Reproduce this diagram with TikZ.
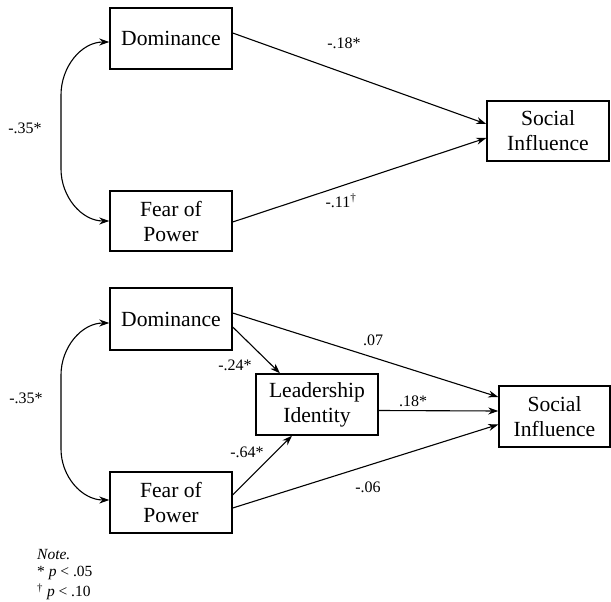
\documentclass[tikz,border=0pt]{standalone}
\usepackage{fontspec}
\setmainfont{Liberation Serif}
\usetikzlibrary{arrows.meta,calc}
\begin{document}
\begin{tikzpicture}[x=1pt,y=-1pt,
  box/.style={draw,line width=1.4pt,inner sep=0pt,align=center,
    font=\fontsize{21.6}{25}\selectfont},
  arr/.style={line width=1.1pt,-{Stealth[length=10pt,width=7pt]}},
  darr/.style={line width=1.1pt,{Stealth[length=10pt,width=7pt]}-{Stealth[length=10pt,width=7pt]}},
  lab/.style={inner sep=0pt,font=\fontsize{16}{19}\selectfont},
  note/.style={inner sep=0pt,anchor=west,font=\fontsize{15.5}{19}\selectfont}]
\useasboundingbox (0,0) rectangle (611,602);
% top panel
\node[box,minimum width=122pt,minimum height=61pt] (d1) at (171,38.5) {Dominance};
\node[box,minimum width=122pt,minimum height=60pt] (f1) at (171,221) {Fear of\\Power};
\node[box,minimum width=122pt,minimum height=60pt] (s1) at (548,131) {Social\\Influence};
\draw[arr] ($(d1.east)+(0,-5.5)$) -- ($(s1.west)+(0,-7)$);
\draw[arr] ($(f1.east)+(0,1)$) -- ($(s1.west)+(0,7)$);
\draw[darr] ($(d1.west)+(0,3.5)$) to[out=180,in=90] (61,95) -- (61,169) to[out=-90,in=180] (f1.west);
\node[lab] (c1) at (25,128) {-.35*};
\node[lab] (l1) at (344,43) {-.18*};
\node[lab] (l2) at (341,201) {-.11\textsuperscript{†}};
% bottom panel
\node[box,minimum width=122pt,minimum height=62pt] (d2) at (171,319) {Dominance};
\node[box,minimum width=122pt,minimum height=61pt] (f2) at (171,502.5) {Fear of\\Power};
\node[box,minimum width=122pt,minimum height=61pt] (li) at (317,404.5) {Leadership\\Identity};
\node[box,minimum width=111pt,minimum height=61pt] (s2) at (554.5,416.5) {Social\\Influence};
\draw[arr] ($(d2.east)+(0,-6)$) -- ($(s2.west)+(0,-19.5)$);
\draw[arr] ($(d2.east)+(0,8)$) -- ($(li.north)+(-37,0)$);
\draw[arr] ($(f2.east)+(0,-7.5)$) -- ($(li.south)+(-25,0)$);
\draw[arr] ($(li.east)+(0,6)$) -- ($(s2.west)+(0,-5.5)$);
\draw[arr] ($(f2.east)+(0,5.5)$) -- ($(s2.west)+(0,8)$);
\draw[darr] ($(d2.west)+(0,4)$) to[out=180,in=90] (61,375) -- (61,449) to[out=-90,in=180] ($(f2.west)+(0,-2.5)$);
\node[lab] (c2) at (26,398) {-.35*};
\node[lab] (l3) at (373,340) {.07};
\node[lab] (l4) at (235,365) {-.24*};
\node[lab] (l5) at (247,452) {-.64*};
\node[lab] (l6) at (413,401) {.18*};
\node[lab] (l7) at (368,487) {-.06};
\node[note] (n1) at (37,555) {\textit{Note.}};
\node[note] (n2) at (37,573) {* \textit{p} < .05};
\node[note] (n3) at (37,592) {\textsuperscript{†} \textit{p} < .10};
\end{tikzpicture}
\end{document}
